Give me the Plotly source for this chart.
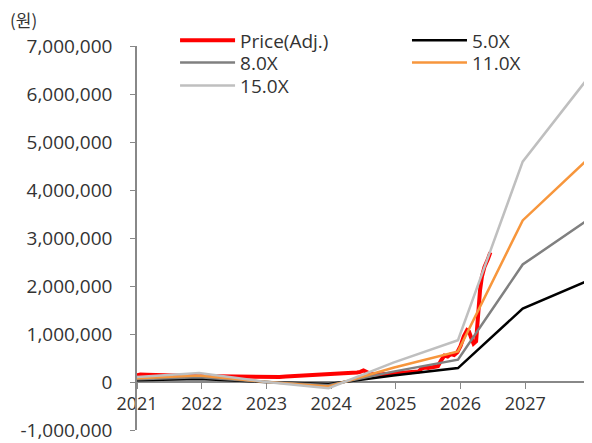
import plotly.graph_objects as go

# ---- data ----
band_x = [2021.0, 2021.96, 2022.96, 2023.96, 2024.96, 2025.96, 2026.96, 2027.95]
eps = [7000, 12500, 500, -8500, 27000, 58000, 306000, 420000]
multiples = [5.0, 8.0, 11.0, 15.0]
band_names = ["5.0X", "8.0X", "11.0X", "15.0X"]
band_colors = ["#000000", "#808080", "#F7963C", "#BFBFBF"]

price_x = [2021.00, 2021.05, 2021.15, 2021.30, 2021.50, 2021.70, 2021.90, 2022.10, 2022.30,
           2022.50, 2022.70, 2022.90, 2023.00, 2023.10, 2023.20, 2023.30, 2023.40, 2023.50,
           2023.60, 2023.70, 2023.80, 2023.90, 2024.00, 2024.10, 2024.20, 2024.25, 2024.30,
           2024.40, 2024.45, 2024.50, 2024.55, 2024.60, 2024.70, 2024.80, 2024.90, 2025.00,
           2025.10, 2025.20, 2025.30, 2025.35, 2025.40, 2025.45, 2025.50, 2025.60, 2025.65,
           2025.70, 2025.75, 2025.80, 2025.85, 2025.90, 2025.95, 2026.00, 2026.05, 2026.10,
           2026.13, 2026.17, 2026.20, 2026.24, 2026.27, 2026.30, 2026.33, 2026.37, 2026.42,
           2026.46]
price_y = [140000, 155000, 150000, 140000, 135000, 130000, 125000, 120000, 115000,
           110000, 105000, 100000, 95000, 100000, 105000, 112000, 120000, 125000,
           130000, 125000, 140000, 145000, 150000, 160000, 170000, 180000, 175000,
           200000, 210000, 240000, 210000, 170000, 150000, 160000, 180000, 190000,
           200000, 210000, 200000, 220000, 280000, 300000, 290000, 310000, 330000,
           450000, 550000, 530000, 580000, 560000, 620000, 750000, 950000, 1080000,
           1050000, 900000, 800000, 850000, 1400000, 1900000, 2200000, 2400000, 2550000,
           2700000]

year_ticks = [2021, 2022, 2023, 2024, 2025, 2026, 2027, 2028]
year_labels = ["2021", "2022", "2023", "2024", "2025", "2026", "2027", ""]
y_ticks = [-1000000, 0, 1000000, 2000000, 3000000, 4000000, 5000000, 6000000, 7000000]
y_labels = ["-1,000,000", "0", "1,000,000", "2,000,000", "3,000,000", "4,000,000",
            "5,000,000", "6,000,000", "7,000,000"]

FONT = "Open Sans"
TXT = "#333333"

legend_ids = {"Price(Adj.)": "legend", "5.0X": "legend2", "8.0X": "legend3",
              "11.0X": "legend4", "15.0X": "legend5"}

fig = go.Figure()
fig.add_trace(go.Scatter(x=price_x, y=price_y, mode="lines", name="Price(Adj.)",
                         line=dict(color="#FF0000", width=4), showlegend=True,
                         legend=legend_ids["Price(Adj.)"]))
for name, m, c in zip(band_names, multiples, band_colors):
    fig.add_trace(go.Scatter(x=band_x, y=[m * e for e in eps], mode="lines", name=name,
                             line=dict(color=c, width=2.5), showlegend=True,
                             legend=legend_ids[name]))

XL, XR = 0.084, 0.596
Y1, Y2, Y3 = 1.064, 1.006, 0.946


def leg(x, y):
    return dict(x=x, y=y, xanchor="left", yanchor="top", bgcolor="rgba(0,0,0,0)",
                itemwidth=55, font=dict(size=19, color=TXT))


fig.update_layout(
    width=584, height=435, showlegend=True,
    margin=dict(l=129, r=2, t=38, b=13, autoexpand=False),
    paper_bgcolor="white", plot_bgcolor="white",
    font=dict(family=FONT, size=18, color=TXT),
    legend=leg(XL, Y1), legend2=leg(XR, Y1), legend3=leg(XL, Y2),
    legend4=leg(XR, Y2), legend5=leg(XL, Y3),
    xaxis=dict(range=[2021, 2028], tickvals=year_ticks, ticktext=year_labels,
               anchor="free", position=0.125, showline=True, linecolor="#888888",
               linewidth=1.5, ticks="outside", ticklen=6, tickcolor="#888888",
               showgrid=False, zeroline=False, layer="below traces",
               tickfont=dict(size=18, color=TXT)),
    yaxis=dict(range=[-1000000, 7000000], tickvals=y_ticks, ticktext=y_labels,
               showline=True, linecolor="#888888", linewidth=1.5, ticks="outside",
               ticklen=5, tickcolor="#888888", showgrid=False, zeroline=False,
               ticklabelstandoff=14, tickfont=dict(size=19, color=TXT)),
    annotations=[dict(text="(원)", xref="paper", yref="paper", x=-0.285, y=1.068,
                      xanchor="left", yanchor="middle", showarrow=False,
                      font=dict(size=17, color=TXT, family="Noto Sans CJK KR"))],
)

fig.write_html("out.html")
